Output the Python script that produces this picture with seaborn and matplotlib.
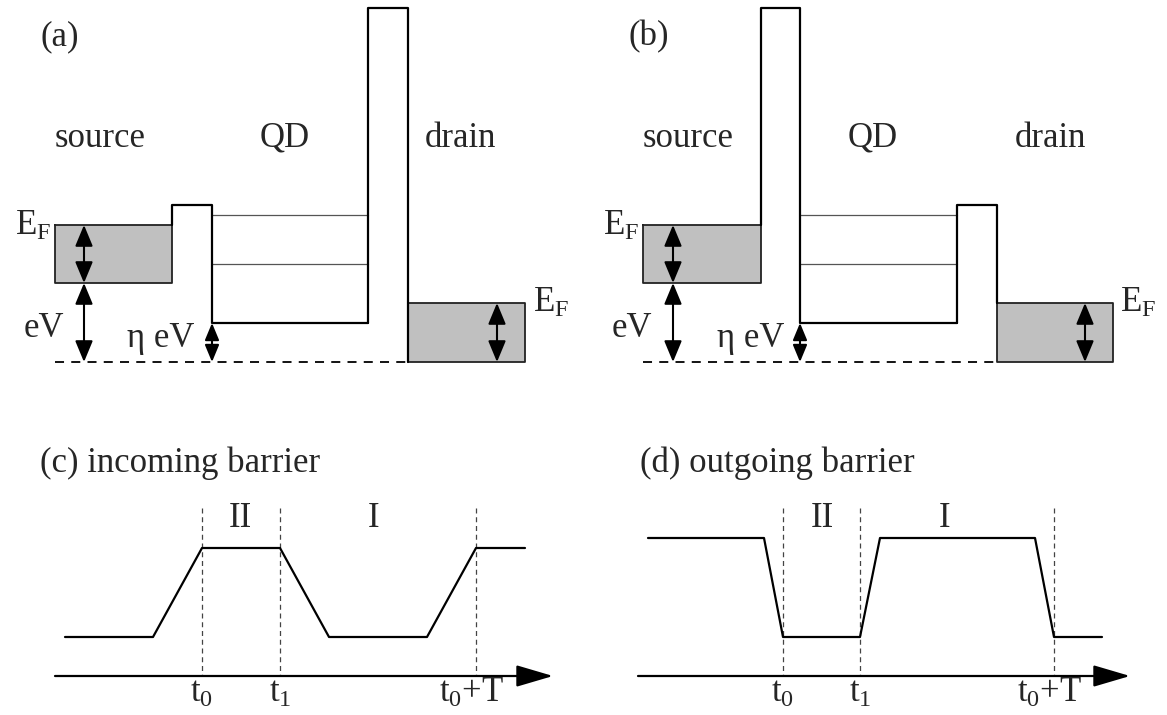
import numpy as np
import pandas as pd
import matplotlib
matplotlib.use('Agg')
import matplotlib.pyplot as plt
import seaborn as sns

sns.set_style('white')
plt.rcParams['font.family'] = ['Liberation Serif', 'DejaVu Serif']
plt.rcParams['mathtext.fontset'] = 'custom'
plt.rcParams['mathtext.rm'] = 'Liberation Serif'
plt.rcParams['mathtext.it'] = 'Liberation Serif:italic'

# ---- schematic data (canvas units, y grows downward) ----
# panel (c): incoming barrier height vs time
c_t = [65, 153, 202, 280, 329, 427, 476, 525]
c_v = [637, 637, 548, 548, 637, 637, 548, 548]
c_marks = [202, 280, 476]
# panel (d): outgoing barrier height vs time
d_t = [648, 764, 783, 860, 880, 1035, 1054, 1102]
d_v = [538, 538, 637, 637, 538, 538, 637, 637]
d_marks = [783, 860, 1054]
mark_labels = ['t$_{\\mathrm{0}}$', 't$_{\\mathrm{1}}$', 't$_{\\mathrm{0}}$+T']

# panel (a) and (b) energy diagrams
base = 362
qd_bottom = 323
qd_levels = [215, 264]
src_top, src_bot = 225, 283
drn_top = 303
a_src = [55, 172]
a_small = [172, 212]
a_tall = [368, 408]
a_drn = [408, 525]
b_src = [643, 761]
b_tall = [761, 800]
b_small = [957, 997]
b_drn = [997, 1113]

fig = plt.figure(figsize=(11.67, 7.15), dpi=100)
ax = fig.add_axes([0, 0, 1, 1])
ax.set_xlim(0, 1167)
ax.set_ylim(715, 0)
ax.axis('off')

LW = 1.6
FS = 25
gray = '#c0c0c0'


def box(x0, x1, y0, y1):
    ax.fill_between([x0, x1], y0, y1, color=gray, lw=0, zorder=1)
    ax.plot([x0, x1, x1, x0, x0], [y0, y0, y1, y1, y0], color='#222222', lw=1.3, zorder=2)


def dbl(x, y0, y1, scale=20):
    ax.annotate('', xy=(x, y1), xytext=(x, y0),
                arrowprops=dict(arrowstyle='<|-|>,head_length=0.65,head_width=0.27', color='k',
                                lw=1.5, mutation_scale=scale, shrinkA=0, shrinkB=0), zorder=5)


# ---- (a) ----
box(a_src[0], a_src[1], src_top, src_bot)
box(a_drn[0], a_drn[1], drn_top, base)
ax.plot([a_small[0], a_small[0], a_small[1], a_small[1], a_tall[0]],
        [src_top, 205, 205, qd_bottom, qd_bottom], color='k', lw=LW, zorder=3)
ax.plot([a_tall[0], a_tall[0], a_tall[1], a_tall[1]],
        [qd_bottom, 8, 8, base], color='k', lw=LW, zorder=3)
for y in qd_levels:
    ax.plot([a_small[1], a_tall[0]], [y, y], color='#555555', lw=0.9, zorder=2)
ax.plot([a_src[0], a_tall[1]], [base, base], color='k', lw=1.3, ls=(0, (5, 4)), zorder=2)
dbl(84, src_top, src_bot)
dbl(84, src_bot, base)
dbl(a_small[1], qd_bottom, base, scale=16)
dbl(497, drn_top, base)

# ---- (b) ----
box(b_src[0], b_src[1], src_top, src_bot)
box(b_drn[0], b_drn[1], drn_top, base)
ax.plot([b_tall[0], b_tall[0], b_tall[1], b_tall[1], b_small[0]],
        [src_top, 8, 8, qd_bottom, qd_bottom], color='k', lw=LW, zorder=3)
ax.plot([b_small[0], b_small[0], b_small[1], b_small[1]],
        [qd_bottom, 205, 205, drn_top], color='k', lw=LW, zorder=3)
for y in qd_levels:
    ax.plot([b_tall[1], b_small[0]], [y, y], color='#555555', lw=0.9, zorder=2)
ax.plot([b_src[0], b_small[1]], [base, base], color='k', lw=1.3, ls=(0, (5, 4)), zorder=2)
dbl(673, src_top, src_bot)
dbl(673, src_bot, base)
dbl(b_tall[1], qd_bottom, base, scale=16)
dbl(1085, drn_top, base)

# labels (a),(b)
for dx, tag, qd_x, drn_x in [(0, '(a)', 285, 460), (588, '(b)', 873, 1050)]:
    ax.text(40 + dx, 45, tag, fontsize=FS, ha='left', va='baseline')
    ax.text(55 + dx, 147, 'source', fontsize=FS, ha='left', va='baseline')
    ax.text(qd_x, 147, 'QD', fontsize=FS, ha='center', va='baseline')
    ax.text(drn_x, 147, 'drain', fontsize=FS, ha='center', va='baseline')
ax.text(51, 235, 'E$_{\\mathrm{F}}$', fontsize=FS, ha='right', va='baseline')
ax.text(639, 235, 'E$_{\\mathrm{F}}$', fontsize=FS, ha='right', va='baseline')
ax.text(533, 312, 'E$_{\\mathrm{F}}$', fontsize=FS, ha='left', va='baseline')
ax.text(1120, 312, 'E$_{\\mathrm{F}}$', fontsize=FS, ha='left', va='baseline')
ax.text(44, 337, 'eV', fontsize=FS, ha='center', va='baseline')
ax.text(632, 337, 'eV', fontsize=FS, ha='center', va='baseline')
ax.text(194, 347, '\u03b7 eV', fontsize=FS, ha='right', va='baseline')
ax.text(784, 347, '\u03b7 eV', fontsize=FS, ha='right', va='baseline')

# ---- (c) and (d) ----
pulse = pd.concat([
    pd.DataFrame({'t': c_t, 'v': c_v, 'panel': 'c'}),
    pd.DataFrame({'t': d_t, 'v': d_v, 'panel': 'd'}),
])
sns.lineplot(data=pulse, x='t', y='v', units='panel', estimator=None, sort=False,
             color='k', lw=LW, ax=ax, zorder=3)
ax.set_xlim(0, 1167)
ax.set_ylim(715, 0)
ax.axis('off')

for x0, x1, marks in [(55, 553, c_marks), (638, 1130, d_marks)]:
    ax.annotate('', xy=(x1, 676), xytext=(x0, 676),
                arrowprops=dict(arrowstyle='-|>,head_length=0.95,head_width=0.28', color='k',
                                lw=1.6, mutation_scale=24, shrinkA=0, shrinkB=0))
    for i, (m, lab) in enumerate(zip(marks, mark_labels)):
        ax.plot([m, m], [508, 676], color='#444444', lw=0.9, ls=(0, (4, 3)), zorder=1)
        ax.text(m - (4 if i == 2 else 0), 702, lab, fontsize=FS, ha='center', va='baseline')

ax.text(40, 472, '(c) incoming barrier', fontsize=FS, ha='left', va='baseline')
ax.text(640, 472, '(d) outgoing barrier', fontsize=FS, ha='left', va='baseline')
ax.text(240, 527, 'II', fontsize=FS, ha='center', va='baseline')
ax.text(374, 527, 'I', fontsize=FS, ha='center', va='baseline')
ax.text(822, 527, 'II', fontsize=FS, ha='center', va='baseline')
ax.text(945, 527, 'I', fontsize=FS, ha='center', va='baseline')

fig.savefig('out.png', dpi=100)
